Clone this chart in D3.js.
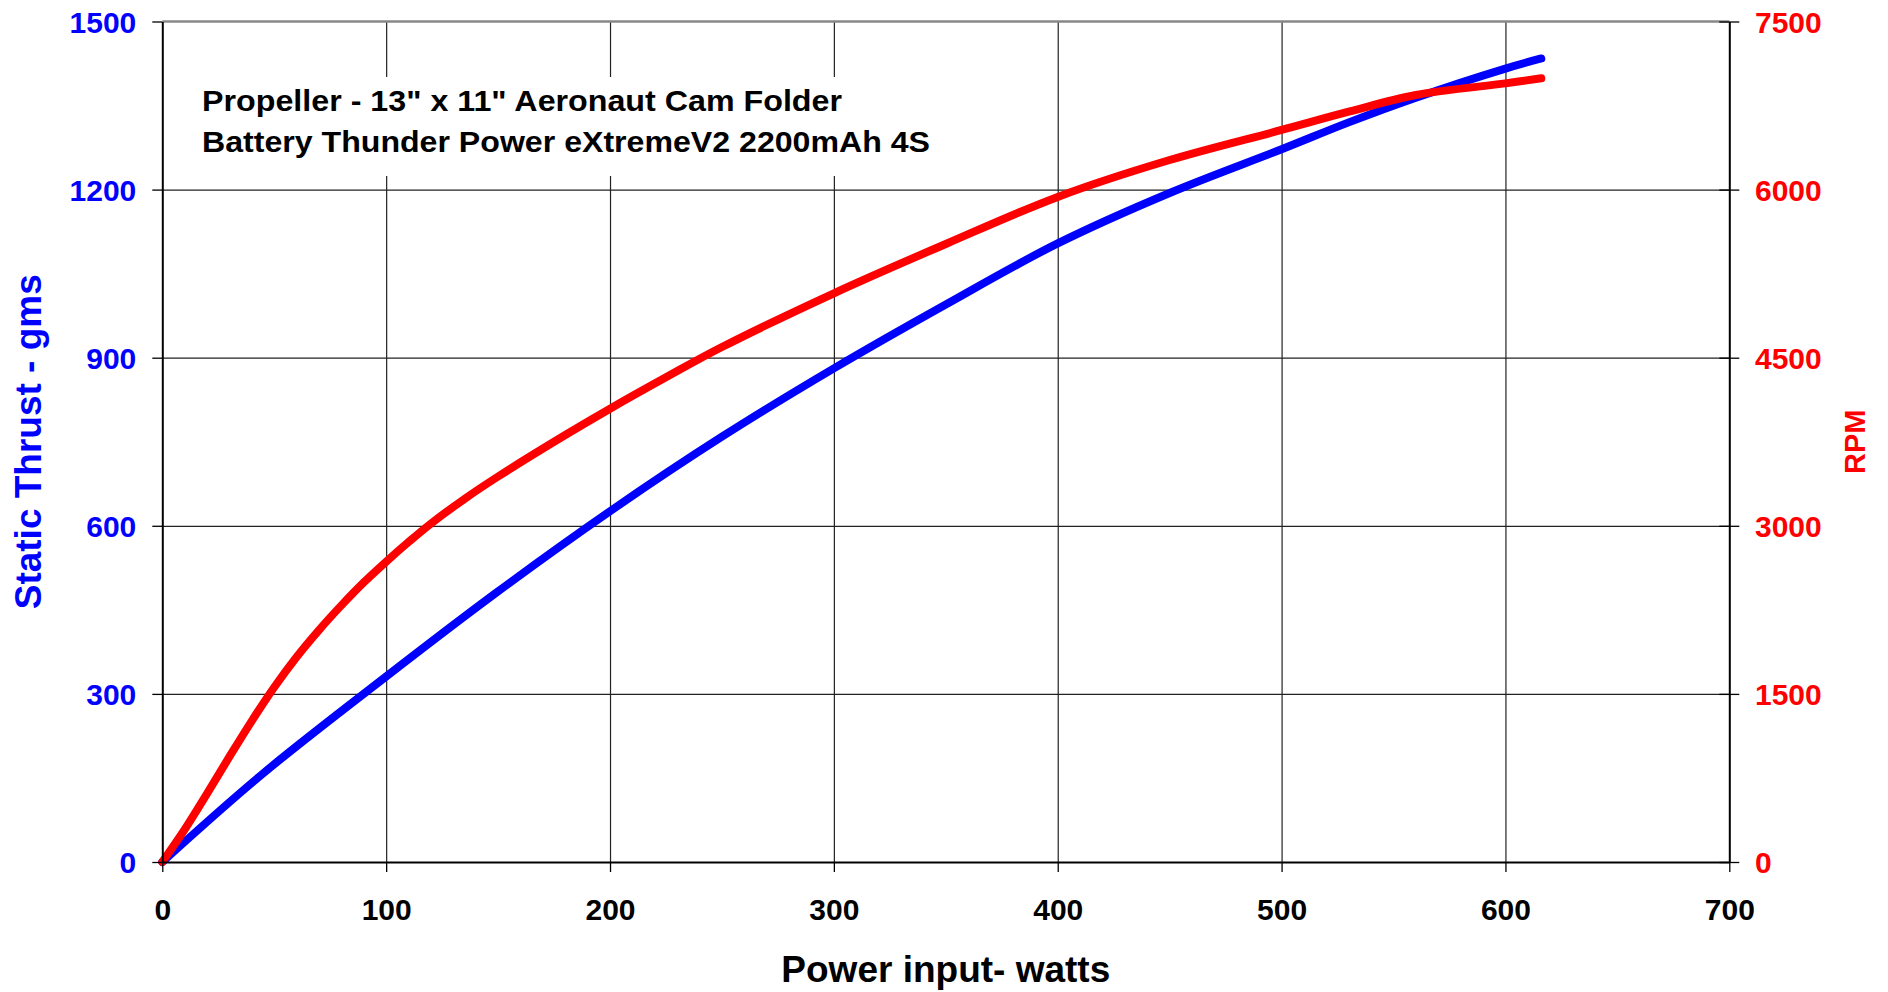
<!DOCTYPE html>
<html>
<head>
<meta charset="utf-8">
<script src="https://cdn.jsdelivr.net/npm/d3@7/dist/d3.min.js"></script>
<style>
  html, body { margin: 0; padding: 0; background: #fff; }
  svg { display: block; }
  text { font-family: "Liberation Sans", Arial, Helvetica, sans-serif; font-weight: bold; }
</style>
</head>
<body>
<svg id="chart" width="1888" height="992"></svg>
<script>
// ---- data ----
const titleLines = ["Propeller - 13\" x 11\" Aeronaut Cam Folder", "Battery Thunder Power eXtremeV2 2200mAh 4S"];
const xTicks = [0, 100, 200, 300, 400, 500, 600, 700];
const thrustTicks = [0, 300, 600, 900, 1200, 1500];
const rpmTicks = [0, 1500, 3000, 4500, 6000, 7500];

const thrustPower = [0, 45, 100, 149, 200, 250, 300, 350, 400, 450, 500, 530, 560, 600, 616];
const thrustValues = [0, 158, 331, 480, 626, 759, 881, 995, 1104, 1194, 1272, 1320, 1364, 1416, 1434];

const rpmPower = [0, 10, 20, 30, 40, 50, 60, 70, 80, 90, 100, 110, 120, 135, 150, 180, 200, 225, 250, 300, 350, 400, 450, 500, 530, 560, 600, 616];
const rpmValues = [0, 290, 610, 940, 1260, 1560, 1830, 2070, 2290, 2495, 2680, 2855, 3020, 3240, 3440, 3810, 4045, 4325, 4595, 5075, 5515, 5935, 6264, 6532, 6695, 6844, 6948, 6993];

// ---- layout ----
const L = 162.3, R = 1729.3, T = 21.5, B = 862;
const svg = d3.select("#chart");
const fmt = d3.format("d");

const x = d3.scaleLinear().domain([0, 700]).range([L, R]);
const yL = d3.scaleLinear().domain([0, 1500]).range([B, T]);
const yR = d3.scaleLinear().domain([0, 7500]).range([B, T]);

// gridlines
const gx = svg.append("g").attr("transform", `translate(0,${B})`)
  .call(d3.axisBottom(x).tickValues(xTicks.slice(1, -1)).tickSize(-(B - T)).tickFormat(""));
gx.select(".domain").remove();
gx.selectAll("line").attr("stroke", "#222").attr("stroke-width", 1.2);

const gy = svg.append("g").attr("transform", `translate(${L},0)`)
  .call(d3.axisLeft(yL).tickValues(thrustTicks.slice(1, -1)).tickSize(-(R - L)).tickFormat(""));
gy.select(".domain").remove();
gy.selectAll("line").attr("stroke", "#222").attr("stroke-width", 1.2);

// title box
svg.append("rect").attr("x", 190).attr("y", 77).attr("width", 760).attr("height", 99).attr("fill", "#fff");
const tl = [640, 728];
titleLines.forEach((s, i) => {
  svg.append("text").attr("x", 202).attr("y", 111 + i * 40.7)
    .attr("font-size", 30).attr("fill", "#000")
    .attr("textLength", tl[i]).attr("lengthAdjust", "spacingAndGlyphs")
    .text(s);
});

// top border
svg.append("line").attr("x1", L).attr("x2", R).attr("y1", T).attr("y2", T)
  .attr("stroke", "#888").attr("stroke-width", 2.5);

// curves
const lineT = d3.line().x((d, i) => x(thrustPower[i])).y(d => yL(d)).curve(d3.curveCatmullRom.alpha(0.5));
const lineR = d3.line().x((d, i) => x(rpmPower[i])).y(d => yR(d)).curve(d3.curveCatmullRom.alpha(0.5));

svg.append("path").datum(thrustValues).attr("d", lineT)
  .attr("fill", "none").attr("stroke", "#0000ff").attr("stroke-width", 8)
  .attr("stroke-linecap", "round").attr("stroke-linejoin", "round");
svg.append("path").datum(rpmValues).attr("d", lineR)
  .attr("fill", "none").attr("stroke", "#ff0000").attr("stroke-width", 8)
  .attr("stroke-linecap", "round").attr("stroke-linejoin", "round");

// axes
const ax = svg.append("g").attr("transform", `translate(0,${B})`)
  .call(d3.axisBottom(x).tickValues(xTicks).tickFormat(fmt).tickSize(10).tickSizeOuter(0).tickPadding(26.7));
ax.select(".domain").attr("stroke", "#000").attr("stroke-width", 2);
ax.selectAll("line").attr("stroke", "#000").attr("stroke-width", 1.3);
ax.selectAll("text").attr("font-size", 30).attr("fill", "#000")
  .attr("font-family", "Liberation Sans, Arial, sans-serif").attr("font-weight", "bold");

const al = svg.append("g").attr("transform", `translate(${L},0)`)
  .call(d3.axisLeft(yL).tickValues(thrustTicks).tickFormat(fmt).tickSize(10).tickSizeOuter(0).tickPadding(16));
al.select(".domain").attr("stroke", "#000").attr("stroke-width", 2);
al.selectAll("line").attr("stroke", "#000").attr("stroke-width", 1.3);
al.selectAll("text").attr("font-size", 30).attr("fill", "#0000ff").attr("dy", "0.36em")
  .attr("font-family", "Liberation Sans, Arial, sans-serif").attr("font-weight", "bold");

const ar = svg.append("g").attr("transform", `translate(${R},0)`)
  .call(d3.axisRight(yR).tickValues(rpmTicks).tickFormat(fmt).tickSize(10).tickSizeOuter(0).tickPadding(15.7));
ar.select(".domain").attr("stroke", "#000").attr("stroke-width", 2);
ar.selectAll(".tick line").attr("x1", -10).attr("stroke", "#000").attr("stroke-width", 1.3);
ar.selectAll("text").attr("font-size", 30).attr("fill", "#ff0000").attr("dy", "0.36em")
  .attr("font-family", "Liberation Sans, Arial, sans-serif").attr("font-weight", "bold");

// axis titles
svg.append("text").attr("x", (L + R) / 2).attr("y", 981.7).attr("text-anchor", "middle")
  .attr("font-size", 37).attr("fill", "#000").text("Power input- watts");
svg.append("text").attr("transform", `translate(41,${(T + B) / 2}) rotate(-90)`).attr("text-anchor", "middle")
  .attr("font-size", 37).attr("fill", "#0000ff").text("Static Thrust - gms");
svg.append("text").attr("transform", `translate(1865,${(T + B) / 2}) rotate(-90)`).attr("text-anchor", "middle")
  .attr("font-size", 29).attr("fill", "#ff0000").text("RPM");
</script>
</body>
</html>
